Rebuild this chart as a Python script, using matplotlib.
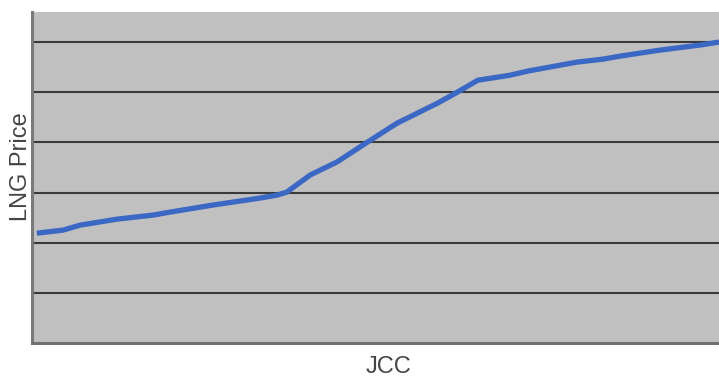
import matplotlib.pyplot as plt

# JCC (oil-linked index, relative units) vs LNG price (relative units)
jcc = [0.7, 4.5, 7.0, 12.4, 17.6, 20.1, 26.3, 33.2, 35.7, 37.1, 40.5, 44.4,
       48.2, 53.1, 59.0, 61.9, 64.9, 69.6, 72.1, 79.3, 83.1, 85.6, 91.4,
       97.2, 100.0]
lng_price = [2.19, 2.25, 2.35, 2.47, 2.55, 2.61, 2.75, 2.89, 2.95, 3.01,
             3.35, 3.61, 3.95, 4.38, 4.78, 5.00, 5.24, 5.34, 5.42, 5.60,
             5.66, 5.72, 5.84, 5.94, 6.00]
grid_levels = [1, 2, 3, 4, 5, 6]

plt.rcParams["font.family"] = ["Liberation Sans", "DejaVu Sans"]

W, H = 719, 377
fig = plt.figure(figsize=(W / 100, H / 100), dpi=100)
ax = fig.add_axes([32 / W, (H - 343) / H, (W - 32) / W, 331 / H])
ax.set_facecolor("#c0c0c0")

ax.plot(jcc, lng_price, color="#3b67c5", linewidth=3.8,
        solid_capstyle="butt", zorder=3)

ax.set_xlim(0, 100)
ax.set_ylim(0, 6.6)
ax.set_yticks(grid_levels)
ax.set_xticks([])
ax.tick_params(axis="y", length=0, labelleft=False)
ax.grid(True, axis="y", color="#3a3a3a", linewidth=1.5, zorder=1)

for side in ("top", "right"):
    ax.spines[side].set_visible(False)
ax.spines["left"].set_color("#7a7a7a")
ax.spines["left"].set_linewidth(2.2)
ax.spines["bottom"].set_color("#707070")
ax.spines["bottom"].set_linewidth(2.2)

# axis titles placed in figure coordinates
fig.text(389 / W, 1 - 367 / H, "JCC", fontsize=17, color="#444444",
         ha="center", va="center")
fig.text(21 / W, 1 - 167 / H, "LNG Price", fontsize=17, color="#444444",
         ha="center", va="center", rotation=90)

fig.savefig("out.png", dpi=100)
